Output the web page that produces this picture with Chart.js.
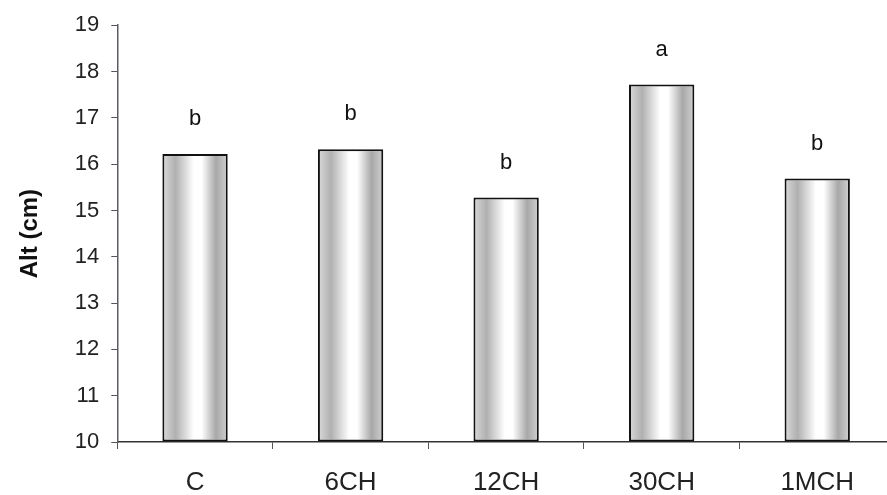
<!DOCTYPE html>
<html>
<head>
<meta charset="utf-8">
<script src="https://cdn.jsdelivr.net/npm/chart.js@4/dist/chart.umd.min.js"></script>
<style>
  html, body { margin: 0; padding: 0; background: #fff; overflow: hidden; }
  #wrap { width: 900px; height: 495px; }
</style>
</head>
<body>
<div id="wrap"><canvas id="barChart"></canvas></div>
<script>
const categories = ['C', '6CH', '12CH', '30CH', '1MCH'];
const heights = [16.22, 16.32, 15.28, 17.72, 15.69];
const letters = ['b', 'b', 'b', 'a', 'b'];
const yTicks = [10, 11, 12, 13, 14, 15, 16, 17, 18, 19];

const FONT = '"Liberation Sans", Arial, sans-serif';

// shaded cylinder look on every bar
const shadePlugin = {
    id: 'shade',
    beforeDatasetsDraw(chart) {
        const c = chart.ctx;
        chart.getDatasetMeta(0).data.forEach(bar => {
            const l = bar.x - bar.width / 2;
            const g = c.createLinearGradient(l, 0, l + bar.width, 0);
            g.addColorStop(0, '#dadada');
            g.addColorStop(0.2, '#b0b0b0');
            g.addColorStop(0.48, '#ffffff');
            g.addColorStop(0.6, '#ffffff');
            g.addColorStop(0.82, '#a8a8a8');
            g.addColorStop(1, '#d0d0d0');
            bar.options = Object.assign({}, bar.options, { backgroundColor: g });
        });
    }
};

const letterPlugin = {
    id: 'letters',
    afterDatasetsDraw(chart) {
        const c = chart.ctx;
        c.save();
        c.font = '22px ' + FONT;
        c.fillStyle = '#111';
        c.textAlign = 'center';
        c.textBaseline = 'bottom';
        chart.getDatasetMeta(0).data.forEach((bar, i) => {
            c.fillText(letters[i], bar.x, bar.y - 24);
        });
        c.restore();
    }
};

const ctx = document.getElementById('barChart').getContext('2d');
const myChart = new Chart(ctx, {
    type: 'bar',
    data: {
        labels: categories,
        datasets: [{
            label: 'Alt (cm)',
            data: heights,
            base: 10,
            backgroundColor: '#ddd',
            borderColor: '#111',
            borderWidth: 2,
            borderSkipped: false,
            barPercentage: 0.42,
            categoryPercentage: 1
        }]
    },
    options: {
        responsive: true,
        maintainAspectRatio: false,
        animation: false,
        layout: { padding: { top: 12, left: 16, right: 5, bottom: -22 } },
        plugins: {
            legend: { display: false },
            tooltip: { enabled: false }
        },
        scales: {
            x: {
                offset: true,
                grid: {
                    offset: true,
                    drawOnChartArea: false,
                    drawTicks: true,
                    tickLength: 7,
                    color: '#555'
                },
                border: { color: '#333', width: 1.5 },
                ticks: {
                    color: '#222',
                    padding: 21,
                    font: { family: FONT, size: 26, lineHeight: 1 }
                }
            },
            y: {
                min: 10,
                max: 19,
                afterBuildTicks: axis => { axis.ticks = yTicks.map(v => ({ value: v })); },
                grid: {
                    drawOnChartArea: false,
                    drawTicks: true,
                    tickLength: 6,
                    color: '#555'
                },
                border: { color: '#5a5a6a', width: 1.5 },
                ticks: {
                    color: '#222',
                    padding: 12,
                    font: { family: FONT, size: 22 }
                },
                title: {
                    display: true,
                    text: 'Alt (cm)',
                    color: '#111',
                    padding: { top: 0, bottom: 18 },
                    font: { family: FONT, size: 24, weight: 'bold' }
                }
            }
        }
    },
    plugins: [shadePlugin, letterPlugin]
});
</script>
</body>
</html>
